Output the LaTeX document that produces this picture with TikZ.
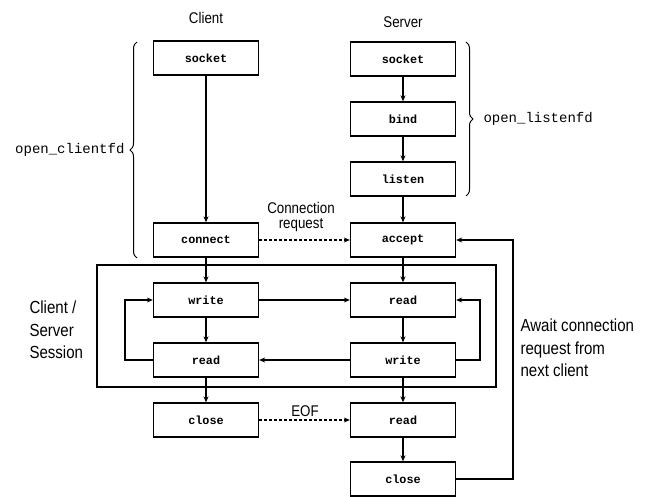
\documentclass[tikz,border=0pt]{standalone}
\usepackage{fontspec}
\setmainfont{Liberation Sans}
\newfontfamily\monof{Liberation Mono}
\newfontfamily\narrowf[FakeStretch=0.86]{Liberation Sans}
\usetikzlibrary{arrows.meta,decorations.pathreplacing}
\begin{document}
\begin{tikzpicture}[x=1pt,y=1pt,
  fn/.style={draw,line width=1.3pt,minimum width=105pt,minimum height=34pt,inner sep=0pt,
    font=\monof\bfseries\fontsize{11.8}{13}\selectfont},
  ar/.style={line width=1.5pt,-{Stealth[length=6pt,width=5pt]}},
  da/.style={ar,dash pattern=on 3pt off 2pt},
  lab/.style={font=\narrowf\fontsize{17.5}{22.5}\selectfont,align=left},
  ttl/.style={font=\narrowf\fontsize{15.5}{18}\selectfont},
  brc/.style={line width=1pt,decorate,decoration={brace,amplitude=7pt}},
  mono/.style={font=\monof\fontsize{14}{16}\selectfont}]
\useasboundingbox (0,0) rectangle (649,-497);
% session frame
\node[draw,line width=1.3pt,minimum width=399pt,minimum height=122pt,inner sep=0pt] (sess) at (296.5,-326) {};
% client column
\node[fn] (cs) at (206,-58) {socket};
\node[fn] (cc) at (206,-240) {connect};
\node[fn] (cw) at (206,-300) {write};
\node[fn] (cr) at (206,-360) {read};
\node[fn] (cx) at (206,-420) {close};
% server column
\node[fn] (ss) at (403,-59) {socket};
\node[fn] (sb) at (403,-119) {bind};
\node[fn] (sl) at (403,-179) {listen};
\node[fn] (sa) at (403,-240) {accept};
\node[fn] (sr) at (403,-300) {read};
\node[fn] (sw) at (403,-360) {write};
\node[fn] (sr2) at (403,-420) {read};
\node[fn] (sx) at (403,-479) {close};
% titles
\node[ttl] (tc) at (206,-18) {Client};
\node[ttl] (ts) at (403,-22) {Server};
% labels
\node[lab,anchor=west] (lsess) at (26,-330) {Client /\\Server\\Session};
\node[lab,anchor=west] (lawait) at (517,-348) {Await connection\\request from\\next client};
\node[ttl,align=center] (lconn) at (301,-217) {Connection\\[-3pt]request};
\node[ttl] (leof) at (305,-411) {EOF};
% braces
\coordinate (cb1) at (137,-258);
\coordinate (cb2) at (137,-42);
\draw[brc] (cb1) -- (cb2);
\node[mono,anchor=east] (lcl) at (128,-150) {open\_clientfd};
\coordinate (sb1) at (466,-42);
\coordinate (sb2) at (466,-196);
\draw[brc] (sb1) -- (sb2);
\node[mono,anchor=west] (lls) at (480,-119) {open\_listenfd};
% client flow
\draw[ar] (cs) -- (cc);
\draw[ar] (cc) -- (cw);
\draw[ar] (cw) -- (cr);
\draw[ar] (cr) -- (cx);
\draw[ar] (cr.west) -- ++(-28,0) |- (cw.west);
% server flow
\draw[ar] (ss) -- (sb);
\draw[ar] (sb) -- (sl);
\draw[ar] (sl) -- (sa);
\draw[ar] (sa) -- (sr);
\draw[ar] (sr) -- (sw);
\draw[ar] (sw) -- (sr2);
\draw[ar] (sr2) -- (sx);
\draw[ar] (sw.east) -- ++(24,0) |- (sr.east);
\draw[ar] (sx.east) -- ++(57,0) |- (sa.east);
% exchanges
\draw[ar] (cw) -- (sr);
\draw[ar] (sw) -- (cr);
\draw[da] (cc) -- (sa);
\draw[da] (cx) -- (sr2);
\end{tikzpicture}
\end{document}
